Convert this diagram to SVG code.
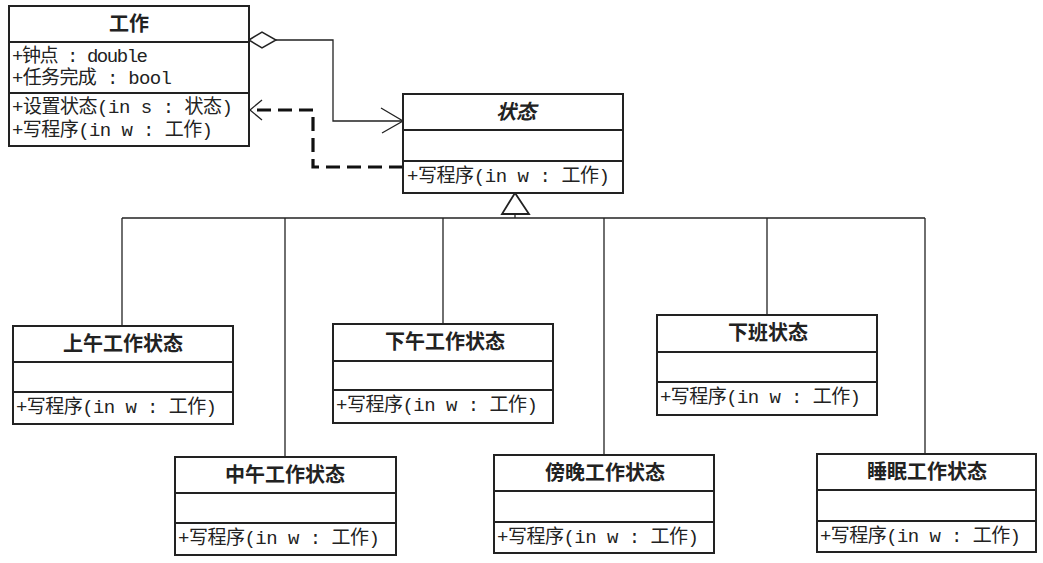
<svg xmlns="http://www.w3.org/2000/svg" width="1043" height="563" viewBox="0 0 1043 563">
<style>
.box{fill:#fff;stroke:#222;stroke-width:2}
.div{stroke:#222;stroke-width:2}
.t{font-family:"Noto Sans CJK SC","Noto Sans",sans-serif;font-weight:bold;font-size:20px;fill:#222;text-anchor:middle}
.m{font-family:"Liberation Mono","Noto Sans CJK SC",monospace;font-size:19px;fill:#222}
.c{fill:none;stroke:#222;stroke-width:1.3}
.d{fill:none;stroke:#111;stroke-width:3.2;stroke-dasharray:14 7}
</style>
<rect width="1043" height="563" fill="#fff"/>
<g id="connectors">
<polygon points="249,40 262,32 276,40 262,48" fill="#fff" stroke="#222" stroke-width="1.5"/>
<polyline class="c" points="276,40 333,40 333,121 403,121"/>
<polyline class="c" points="381,108 403,121 382,133"/>
<polyline class="d" points="403,167 313,167 313,110 252,110"/>
<polyline class="c" points="262,100 250,110 262,120" stroke-width="1.5"/>
<polygon points="515,193 502,214 529,214" fill="#fff" stroke="#222" stroke-width="1.8"/>
<line class="c" x1="515" y1="214" x2="515" y2="218"/>
<line class="c" x1="122" y1="218" x2="925" y2="218"/>
<line class="c" x1="122" y1="218" x2="122" y2="326"/>
<line class="c" x1="285" y1="218" x2="285" y2="457"/>
<line class="c" x1="443" y1="218" x2="443" y2="324"/>
<line class="c" x1="604" y1="218" x2="604" y2="455"/>
<line class="c" x1="767" y1="218" x2="767" y2="315"/>
<line class="c" x1="925" y1="218" x2="925" y2="454"/>
</g>
<g id="gongzuo">
<rect class="box" x="9" y="6" width="240" height="140"/>
<line class="div" x1="9" y1="42" x2="249" y2="42"/>
<line class="div" x1="9" y1="93" x2="249" y2="93"/>
<text class="t" x="129" y="31">工作</text>
<text class="m" x="12" y="62" textLength="136">+钟点 : double</text>
<text class="m" x="12" y="84" textLength="160">+任务完成 : bool</text>
<text class="m" x="12" y="113" textLength="221">+设置状态(in s : 状态)</text>
<text class="m" x="12" y="136" textLength="201">+写程序(in w : 工作)</text>
</g>
<g id="zhuangtai">
<rect class="box" x="403" y="94" width="220" height="99"/>
<line class="div" x1="403" y1="130" x2="623" y2="130"/>
<line class="div" x1="403" y1="161" x2="623" y2="161"/>
<text class="t" x="516" y="119" font-style="italic">状态</text>
<text class="m" x="407" y="182" textLength="203">+写程序(in w : 工作)</text>
</g>
<g id="shangwu">
<rect class="box" x="13" y="326" width="220" height="98"/>
<line class="div" x1="13" y1="362" x2="233" y2="362"/>
<line class="div" x1="13" y1="392" x2="233" y2="392"/>
<text class="t" x="123" y="351">上午工作状态</text>
<text class="m" x="16" y="413" textLength="201">+写程序(in w : 工作)</text>
</g>
<g id="xiawu">
<rect class="box" x="333" y="324" width="220" height="99"/>
<line class="div" x1="333" y1="361" x2="553" y2="361"/>
<line class="div" x1="333" y1="390" x2="553" y2="390"/>
<text class="t" x="445" y="349">下午工作状态</text>
<text class="m" x="336" y="411" textLength="202">+写程序(in w : 工作)</text>
</g>
<g id="xiaban">
<rect class="box" x="657" y="315" width="220" height="100"/>
<line class="div" x1="657" y1="352" x2="877" y2="352"/>
<line class="div" x1="657" y1="382" x2="877" y2="382"/>
<text class="t" x="768" y="340">下班状态</text>
<text class="m" x="660" y="403" textLength="201">+写程序(in w : 工作)</text>
</g>
<g id="zhongwu">
<rect class="box" x="175" y="457" width="221" height="98"/>
<line class="div" x1="175" y1="493" x2="396" y2="493"/>
<line class="div" x1="175" y1="523" x2="396" y2="523"/>
<text class="t" x="285" y="482">中午工作状态</text>
<text class="m" x="178" y="544" textLength="202">+写程序(in w : 工作)</text>
</g>
<g id="bangwan">
<rect class="box" x="494" y="455" width="220" height="98"/>
<line class="div" x1="494" y1="491" x2="714" y2="491"/>
<line class="div" x1="494" y1="522" x2="714" y2="522"/>
<text class="t" x="605" y="480">傍晚工作状态</text>
<text class="m" x="497" y="543" textLength="202">+写程序(in w : 工作)</text>
</g>
<g id="shuimian">
<rect class="box" x="817" y="454" width="219" height="98"/>
<line class="div" x1="817" y1="490" x2="1036" y2="490"/>
<line class="div" x1="817" y1="521" x2="1036" y2="521"/>
<text class="t" x="927" y="479">睡眠工作状态</text>
<text class="m" x="820" y="542" textLength="201">+写程序(in w : 工作)</text>
</g>
</svg>
